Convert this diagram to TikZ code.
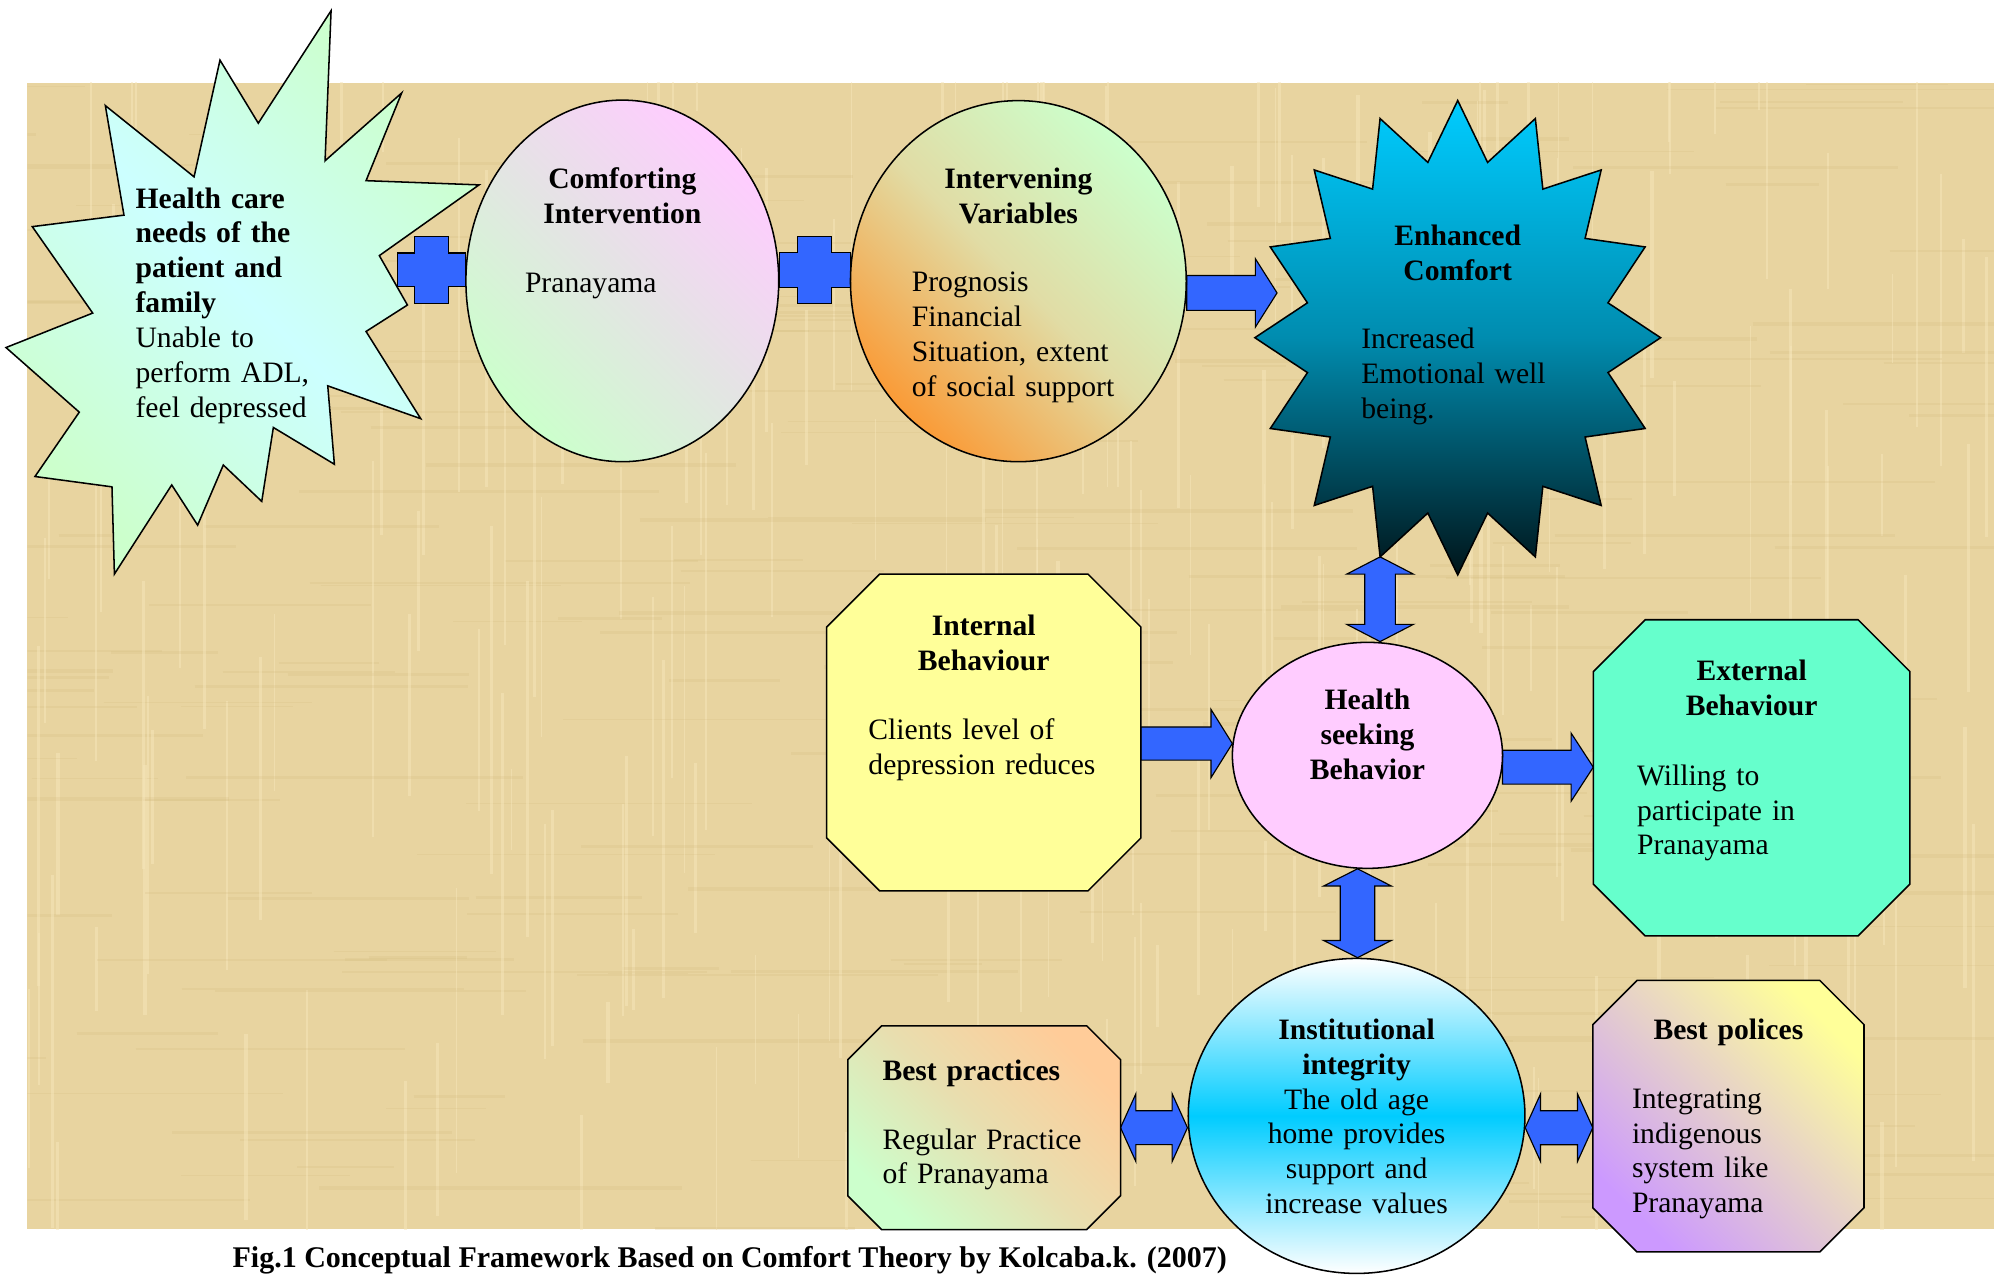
\documentclass[tikz,border=0pt]{standalone}
\usepackage{fontspec}
\setmainfont{Liberation Serif}
\usetikzlibrary{shapes.geometric,calc}

\definecolor{paper}{RGB}{232,212,160}
\definecolor{paperlight}{RGB}{246,230,186}
\definecolor{paperdark}{RGB}{212,188,128}
\definecolor{arrowblue}{RGB}{51,102,255}
\definecolor{mint}{RGB}{204,255,204}
\definecolor{palecyan}{RGB}{204,255,255}
\definecolor{palepink}{RGB}{255,204,255}
\definecolor{palegrey}{RGB}{228,228,228}
\definecolor{tangerine}{RGB}{250,155,55}
\definecolor{khaki}{RGB}{225,220,165}
\definecolor{skyblue}{RGB}{0,204,255}
\definecolor{midteal}{RGB}{0,140,175}
\definecolor{deepteal}{RGB}{0,20,25}
\definecolor{paleyellow}{RGB}{255,255,153}
\definecolor{aquamint}{RGB}{102,255,204}
\definecolor{peach}{RGB}{255,204,153}
\definecolor{sand}{RGB}{232,222,175}
\definecolor{lilac}{RGB}{204,153,255}
\definecolor{mauve}{RGB}{228,205,205}

\pgfdeclarelayer{paper}
\pgfdeclarelayer{links}
\pgfsetlayers{paper,links,main}

\newcommand\figfont{\fontsize{23.2pt}{27.3pt}\selectfont}

% octagon drawn round a plain rectangle node
\newcommand\octbox[3]{%
  \path[#3] ([xshift=#2]#1.north west) -- ([xshift=-#2]#1.north east)
    -- ([yshift=-#2]#1.north east) -- ([yshift=#2]#1.south east)
    -- ([xshift=-#2]#1.south east) -- ([xshift=#2]#1.south west)
    -- ([yshift=#2]#1.south west) -- ([yshift=-#2]#1.north west) -- cycle;}

\tikzset{
  outline/.style={draw=black, line width=1.2pt},
  blockarr/.style={fill=arrowblue, draw=black, line width=0.9pt},
  hd/.style={font=\figfont\bfseries, inner sep=0pt, anchor=base, text width=260pt, align=center},
  bd/.style={font=\figfont, inner sep=0pt, anchor=base west, text width=230pt, align=left},
  rarrow/.style n args={3}{blockarr, to path={let \p1=(\tikztostart), \p2=(\tikztotarget) in
    (\x1,{\y1+#1}) -- ({\x2-#3},{\y1+#1}) -- ({\x2-#3},{\y1+#2}) -- (\x2,\y1)
    -- ({\x2-#3},{\y1-#2}) -- ({\x2-#3},{\y1-#1}) -- (\x1,{\y1-#1}) -- cycle}},
  hdarrow/.style n args={3}{blockarr, to path={let \p1=(\tikztostart), \p2=(\tikztotarget) in
    (\x1,\y1) -- ({\x1+#3},{\y1+#2}) -- ({\x1+#3},{\y1+#1}) -- ({\x2-#3},{\y1+#1})
    -- ({\x2-#3},{\y1+#2}) -- (\x2,\y1) -- ({\x2-#3},{\y1-#2}) -- ({\x2-#3},{\y1-#1})
    -- ({\x1+#3},{\y1-#1}) -- ({\x1+#3},{\y1-#2}) -- cycle}},
  vdarrow/.style n args={3}{blockarr, to path={let \p1=(\tikztostart), \p2=(\tikztotarget) in
    (\x1,\y1) -- ({\x1+#2},{\y1-#3}) -- ({\x1+#1},{\y1-#3}) -- ({\x1+#1},{\y2+#3})
    -- ({\x1+#2},{\y2+#3}) -- (\x1,\y2) -- ({\x1-#2},{\y2+#3}) -- ({\x1-#1},{\y2+#3})
    -- ({\x1-#1},{\y1-#3}) -- ({\x1-#2},{\y1-#3}) -- cycle}},
  plusbar/.style 2 args={blockarr, to path={let \p1=(\tikztostart), \p2=(\tikztotarget),
    \p3=($(\p1)!.5!(\p2)$) in
    (\x1,{\y1+#1}) -- ({\x3-#1},{\y1+#1}) -- ({\x3-#1},{\y1+#2}) -- ({\x3+#1},{\y1+#2})
    -- ({\x3+#1},{\y1+#1}) -- (\x2,{\y1+#1}) -- (\x2,{\y1-#1}) -- ({\x3+#1},{\y1-#1})
    -- ({\x3+#1},{\y1-#2}) -- ({\x3-#1},{\y1-#2}) -- ({\x3-#1},{\y1-#1}) -- (\x1,{\y1-#1}) -- cycle}},
}

\begin{document}
\begin{tikzpicture}[x=1pt, y=-1pt]

\useasboundingbox (0,0) rectangle (1568,999);
\begin{pgfonlayer}{paper}
  \fill[white] (0,0) rectangle (1568,999);
  \fill[paper] (21.4,64.8) rectangle (1561.7,962.8);
  % woven paper look
  \begin{scope}
    \clip (21.4,64.8) rectangle (1561.7,962.8);
    \pgfmathsetseed{11}
    \foreach \k in {1,...,240}{
      \pgfmathsetmacro\px{21.4+1540*rnd}
      \pgfmathsetmacro\py{-100+1000*rnd}
      \pgfmathsetmacro\pl{60+240*rnd}
      \pgfmathsetmacro\pw{0.8+2.2*rnd}
      \draw[paperlight, opacity=0.5, line width=\pw pt] (\px,\py) -- ++(0,\pl);
      \pgfmathsetmacro\qx{-200+1700*rnd}
      \pgfmathsetmacro\qy{64.8+898*rnd}
      \draw[paperdark, opacity=0.22, line width=\pw pt] (\qx,\qy) -- ++(\pl,0);
    }
  \end{scope}
\end{pgfonlayer}

% health care needs
\shadedraw[outline, left color=mint, right color=mint, middle color=palecyan, shading angle=135]
  (259.3,8.4) -- (254.6,125.9) -- (314.6,72.8) -- (286.7,141.5) -- (375.2,144.8)
  -- (297.1,200.2) -- (319.1,238.9) -- (286.7,259.6) -- (329.5,327.9) -- (256.7,302.2)
  -- (261.9,363.6) -- (214.1,334.8) -- (205.0,392.7) -- (174.9,364.2) -- (154.8,411.3)
  -- (134.5,379.8) -- (89.6,449.6) -- (87.7,381.3) -- (27.4,373.2) -- (62.1,322.8)
  -- (4.7,272.2) -- (72.6,245.2) -- (25.3,177.5) -- (97.1,168.5) -- (82.5,82.7)
  -- (152.0,138.5) -- (172.3,47.1) -- (202.3,96.5) -- cycle;
\node[bd] (needs) at (106,163) {\textbf{Health care\\needs of the\\patient and\\family}\\Unable to\\perform ADL,\\feel depressed};
\coordinate (needs-out) at (311,211.4);

\node[ellipse, outline, minimum width=245pt, minimum height=283.2pt,
  left color=mint, right color=palepink, middle color=palegrey, shading angle=135] (comf) at (487.4,220) {};
\node[hd] (comf-h) at (487.4,147.5) {Comforting\\Intervention};
\node[bd] (comf-b) at (411,229.2) {Pranayama};

\node[ellipse, outline, minimum width=263pt, minimum height=282.8pt,
  left color=tangerine, right color=mint, middle color=khaki, shading angle=135] (intvar) at (797.6,220.2) {};
\node[hd] (intvar-h) at (797.6,148) {Intervening\\Variables};
\node[bd] (intvar-b) at (714,228.5) {Prognosis\\Financial\\Situation, extent\\of social support};

% enhanced comfort
\coordinate (enh) at (1141.7,264.5);
\foreach \i in {0,...,31}{
  \pgfmathsetmacro\sx{mod(\i,2)==0 ? 158.9 : 120}
  \pgfmathsetmacro\sy{mod(\i,2)==0 ? 185.8 : 140}
  \coordinate (enh-\i) at ([shift={({\sx*cos(90+11.25*\i)},{-\sy*sin(90+11.25*\i)})}]enh);
}
\shadedraw[outline, top color=skyblue, bottom color=deepteal, middle color=midteal]
  (enh-0) \foreach \i in {1,...,31}{-- (enh-\i)} -- cycle;
\node[hd] (enh-h) at (1141.7,192) {Enhanced\\Comfort};
\node[bd] (enh-b) at (1066,273) {Increased\\Emotional well\\being.};
\coordinate (enh-in) at (1000.2,228.8);

\node[minimum width=245.7pt, minimum height=247.8pt, inner sep=0pt] (intb) at (770.5,573.7) {};
\octbox{intb}{41.5pt}{outline, fill=paleyellow}
\node[hd] (intb-h) at (770.5,498) {Internal\\Behaviour};
\node[bd] (intb-b) at (680,579) {Clients level of\\depression reduces};

\node[ellipse, outline, fill=palepink, minimum width=211.6pt, minimum height=177pt] (health) at (1071,591.6) {};
\node[hd] (health-t) at (1071,556) {Health\\seeking\\Behavior};

\node[minimum width=247.6pt, minimum height=247.2pt, inner sep=0pt] (extb) at (1371.9,609.2) {};
\octbox{extb}{40.6pt}{outline, fill=aquamint}
\node[hd] (extb-h) at (1371.9,533) {External\\Behaviour};
\node[bd] (extb-b) at (1282,615) {Willing to\\participate in\\Pranayama};

\node[ellipse, outline, top color=white, bottom color=white, middle color=skyblue,
  minimum width=263.7pt, minimum height=246.7pt] (inst) at (1062.5,874) {};
\node[hd, font=\figfont] (inst-t) at (1062.5,814) {\textbf{Institutional\\integrity}\\The old age\\home provides\\support and\\increase values};

\node[minimum width=213.2pt, minimum height=159.2pt, inner sep=0pt] (bp) at (770.8,883.2) {};
\octbox{bp}{26.5pt}{outline, left color=mint, right color=peach, middle color=sand, shading angle=135}
\node[bd, font=\figfont\bfseries] (bp-h) at (691,846) {Best practices};
\node[bd] (bp-b) at (691,900) {Regular Practice\\of Pranayama};

\node[minimum width=212pt, minimum height=212.2pt, inner sep=0pt] (pol) at (1353.7,874.2) {};
\octbox{pol}{34.6pt}{outline, left color=lilac, right color=paleyellow, middle color=mauve, shading angle=135}
\node[hd] (pol-h) at (1353.7,814) {Best polices};
\node[bd] (pol-b) at (1278,868) {Integrating\\indigenous\\system like\\Pranayama};

\begin{pgfonlayer}{links}
\draw[plusbar={13.3pt}{26.4pt}] (needs-out) to (comf.176);
\draw[plusbar={13.5pt}{26.2pt}] (comf.4) to (intvar.176);
\draw[rarrow={13.7pt}{26.8pt}{17pt}] (intvar.-4) to (enh-in);
\draw[vdarrow={12pt}{26.1pt}{13.5pt}] (enh-14) to (health.north);
\draw[rarrow={13pt}{26.7pt}{16.7pt}] (intb.east |- health.175) to (health.175);
\draw[rarrow={13.3pt}{26.7pt}{17.4pt}] (health.-5) to (extb.west);
\draw[vdarrow={13.5pt}{26.6pt}{13.5pt}] (health.265) to (inst.north);
\draw[hdarrow={13.3pt}{26.5pt}{12pt}] (bp.east) to (inst.west);
\draw[hdarrow={13.3pt}{26.5pt}{12pt}] (inst.-4) to (pol.west);
\end{pgfonlayer}

\node[font=\fontsize{23.5pt}{27.3pt}\selectfont\bfseries, inner sep=0pt, anchor=base west] (cap) at (182,993)
  {Fig.1 Conceptual Framework Based on Comfort Theory by Kolcaba.k. (2007)};

\end{tikzpicture}
\end{document}
